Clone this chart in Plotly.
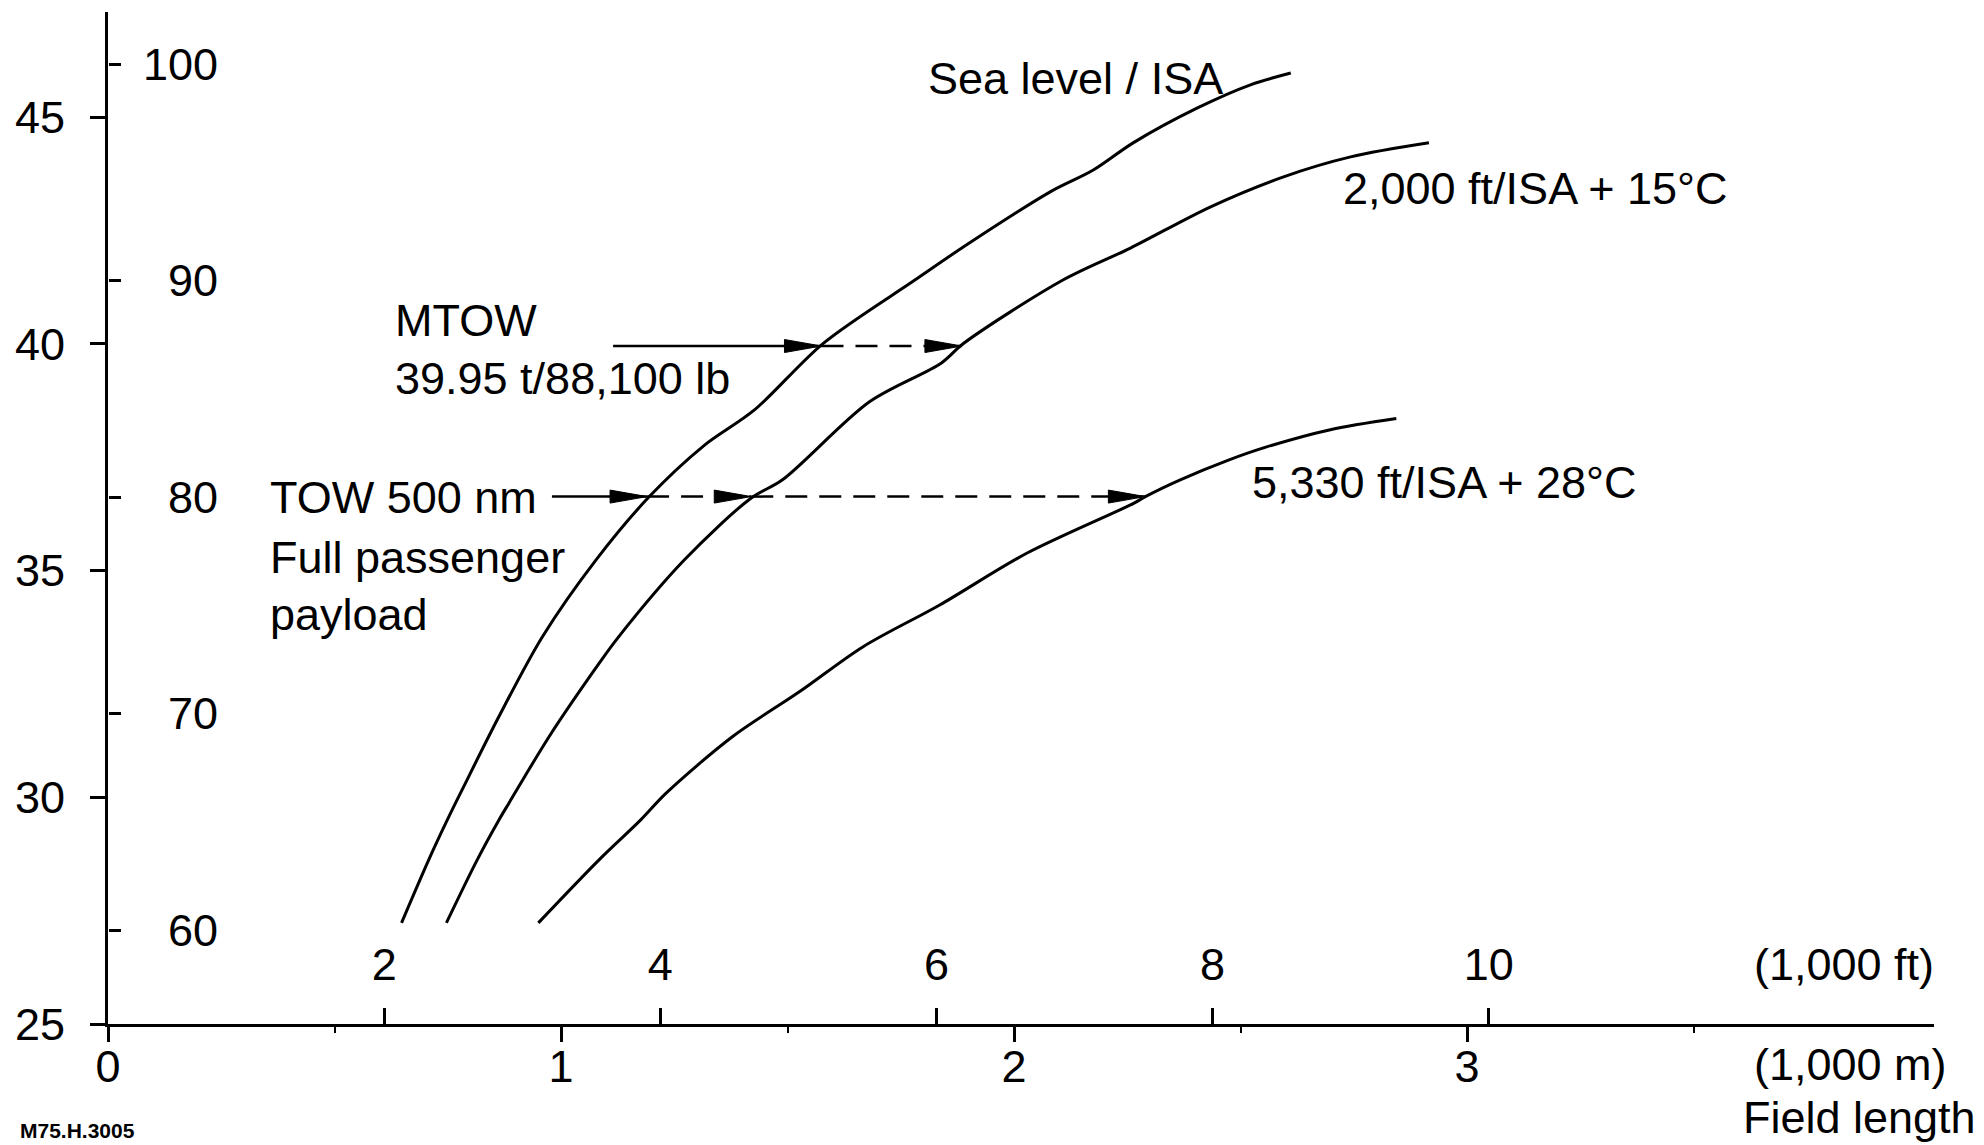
import plotly.graph_objects as go

# ---------------- data (field length in 1,000 m, take-off weight in t) -------------
SEA_KM = [0.648, 0.708, 0.749, 0.785, 0.863, 0.959, 1.077, 1.195, 1.315, 1.427, 1.579,
          1.782, 1.898, 2.080, 2.175, 2.263, 2.405, 2.522, 2.611]
SEA_T = [27.23, 28.62, 29.50, 30.23, 31.78, 33.54, 35.23, 36.63, 37.75, 38.54, 40.01,
         41.41, 42.20, 43.35, 43.83, 44.43, 45.20, 45.71, 45.97]

K2000_KM = [0.747, 0.815, 0.863, 0.885, 0.974, 1.084, 1.125, 1.272, 1.420, 1.489, 1.681,
            1.839, 1.889, 2.109, 2.257, 2.434, 2.595, 2.743, 2.916]
K2000_T = [27.23, 28.62, 29.50, 29.87, 31.34, 32.95, 33.51, 35.23, 36.60, 37.00, 38.72,
           39.57, 40.01, 41.41, 42.11, 43.02, 43.68, 44.12, 44.43]

K5330_KM = [0.950, 1.084, 1.176, 1.232, 1.379, 1.527, 1.667, 1.836, 2.028, 2.264, 2.290,
            2.367, 2.472, 2.556, 2.696, 2.844]
K5330_T = [27.23, 28.62, 29.50, 30.09, 31.34, 32.33, 33.32, 34.24, 35.38, 36.48, 36.63,
           37.00, 37.43, 37.72, 38.10, 38.35]

CURVE_NAMES = ["Sea level / ISA", "2,000 ft/ISA + 15°C", "5,330 ft/ISA + 28°C"]

# reference arrows
MTOW_T = 39.95
MTOW_START_KM = 1.115
MTOW_TIPS_KM = [1.575, 1.885]
TOW500_T = 36.63
TOW500_START_KM = 0.98
TOW500_TIPS_KM = [1.19, 1.42, 2.29]

# axes / ticks
T_TICKS = [25, 30, 35, 40, 45]
LB_TICKS = [60, 70, 80, 90, 100]          # 1,000 lb
M_TICKS = [0, 1, 2, 3]                    # 1,000 m
M_MINOR = [0.5, 1.5, 2.5, 3.5]
FT_TICKS = [2, 4, 6, 8, 10]               # 1,000 ft
KM_PER_KFT = 0.3048

# ---------------- layout geometry ----------------
W, H = 1984, 1145
PL, PR, PT, PB = 108, 1934, 12, 1024
KM_RANGE = [0, (PR - PL) / 453.0]
T_RANGE = [25, 25 + (PB - PT) / 45.35]
LB_RANGE = [60 - (PB - 930) / 21.65, 60 + (930 - PT) / 21.65]
FT_RANGE = [KM_RANGE[0] / KM_PER_KFT, KM_RANGE[1] / KM_PER_KFT]

FONT = "Liberation Sans, Arial, Helvetica, sans-serif"
FS = 45


def fx(px):
    return (px - PL) / (PR - PL)


def fy(py):
    return (PB - py) / (PB - PT)


km_per_px = (KM_RANGE[1] - KM_RANGE[0]) / (PR - PL)
t_per_px = (T_RANGE[1] - T_RANGE[0]) / (PB - PT)

fig = go.Figure()

for xs, ys in [(SEA_KM, SEA_T), (K2000_KM, K2000_T), (K5330_KM, K5330_T)]:
    fig.add_trace(go.Scatter(x=xs, y=ys, mode="lines",
                             line=dict(color="black", width=3, shape="spline", smoothing=0.9),
                             hoverinfo="skip", showlegend=False))


def add_arrow(level, start, tips):
    fig.add_trace(go.Scatter(x=[start, tips[0]], y=[level, level], mode="lines",
                             line=dict(color="black", width=2.5),
                             hoverinfo="skip", showlegend=False))
    for a, b in zip(tips[:-1], tips[1:]):
        fig.add_trace(go.Scatter(x=[a, b], y=[level, level], mode="lines",
                                 line=dict(color="black", width=2.5, dash="22px,12px"),
                                 hoverinfo="skip", showlegend=False))
    L = 37 * km_per_px
    h = 6.5 * t_per_px
    for tip in tips:
        fig.add_trace(go.Scatter(x=[tip, tip - L, tip - L, tip], y=[level, level + h, level - h, level],
                                 mode="lines", fill="toself", fillcolor="black",
                                 line=dict(color="black", width=1),
                                 hoverinfo="skip", showlegend=False))


add_arrow(MTOW_T, MTOW_START_KM, MTOW_TIPS_KM)
add_arrow(TOW500_T, TOW500_START_KM, TOW500_TIPS_KM)

# invisible traces so the secondary axes are drawn
fig.add_trace(go.Scatter(x=[1], y=[30], xaxis="x2", yaxis="y", mode="markers",
                         marker=dict(opacity=0), hoverinfo="skip", showlegend=False))
fig.add_trace(go.Scatter(x=[1], y=[70], xaxis="x", yaxis="y2", mode="markers",
                         marker=dict(opacity=0), hoverinfo="skip", showlegend=False))
fig.add_trace(go.Scatter(x=[1], y=[70], xaxis="x", yaxis="y3", mode="markers",
                         marker=dict(opacity=0), hoverinfo="skip", showlegend=False))

tickfont = dict(family=FONT, size=FS, color="black")

fig.update_layout(
    width=W, height=H, autosize=False,
    margin=dict(l=PL, r=W - PR, t=PT, b=H - PB, pad=0, autoexpand=False),
    paper_bgcolor="white", plot_bgcolor="white",
    font=dict(family=FONT, size=FS, color="black"),
    xaxis=dict(range=KM_RANGE, domain=[0, 1], tickmode="array", tickvals=M_TICKS,
               ticktext=[str(v) for v in M_TICKS], ticks="outside", ticklen=15, tickwidth=2.5,
               tickcolor="black", showline=True, linewidth=3, linecolor="black",
               showgrid=False, zeroline=False, tickfont=tickfont, ticklabelstandoff=-14,
               automargin=False,
               minor=dict(tickmode="array", tickvals=M_MINOR, ticks="outside", ticklen=6,
                          tickwidth=2, tickcolor="black", showgrid=False)),
    xaxis2=dict(range=FT_RANGE, overlaying="x", anchor="free", position=0, side="top",
                tickmode="array", tickvals=FT_TICKS, ticktext=[str(v) for v in FT_TICKS],
                ticks="outside", ticklen=16, tickwidth=2.5, tickcolor="black", showline=False,
                showgrid=False, zeroline=False, tickfont=tickfont, ticklabelstandoff=10,
                automargin=False),
    yaxis=dict(range=T_RANGE, tickmode="array", tickvals=T_TICKS,
               ticktext=[str(v) for v in T_TICKS], ticks="outside", ticklen=15, tickwidth=2.5,
               tickcolor="black", showline=True, linewidth=3, linecolor="black",
               showgrid=False, zeroline=False, tickfont=tickfont, ticklabelstandoff=16,
               automargin=False),
    yaxis2=dict(range=LB_RANGE, overlaying="y", anchor="free", position=fx(218), side="left",
                tickmode="array", tickvals=LB_TICKS, ticktext=[str(v) for v in LB_TICKS],
                ticks="", showline=False, showgrid=False, zeroline=False, tickfont=tickfont,
                automargin=False),
    yaxis3=dict(range=LB_RANGE, overlaying="y", anchor="free", position=0, side="left",
                tickmode="array", tickvals=LB_TICKS, ticks="inside", ticklen=12, tickwidth=2.5,
                tickcolor="black", showticklabels=False, showline=False, showgrid=False,
                zeroline=False, automargin=False),
)

texts = [
    ("Sea level / ISA", 926, 79, "left"),
    ("2,000 ft/ISA + 15°C", 1341, 188, "left"),
    ("5,330 ft/ISA + 28°C", 1250, 482, "left"),
    ("MTOW", 393, 320, "left"),
    ("39.95 t/88,100 lb", 393, 378, "left"),
    ("TOW 500 nm", 268, 497, "left"),
    ("Full passenger", 268, 557, "left"),
    ("payload", 268, 614, "left"),
    ("(1,000 ft)", 1752, 964, "left"),
    ("(1,000 m)", 1752, 1064, "left"),
    ("Field length", 1978, 1117, "right"),
]
for txt, px, py, anc in texts:
    fig.add_annotation(x=fx(px), y=fy(py), xref="paper", yref="paper", text=txt,
                       showarrow=False, xanchor=anc, yanchor="middle",
                       font=dict(family=FONT, size=FS, color="black"))

fig.add_annotation(x=fx(18), y=fy(1130), xref="paper", yref="paper", text="<b>M75.H.3005</b>",
                   showarrow=False, xanchor="left", yanchor="middle",
                   font=dict(family=FONT, size=21, color="black"))

fig.write_html("out.html", config={"displayModeBar": False},
               post_script="document.body.style.margin='0';")
